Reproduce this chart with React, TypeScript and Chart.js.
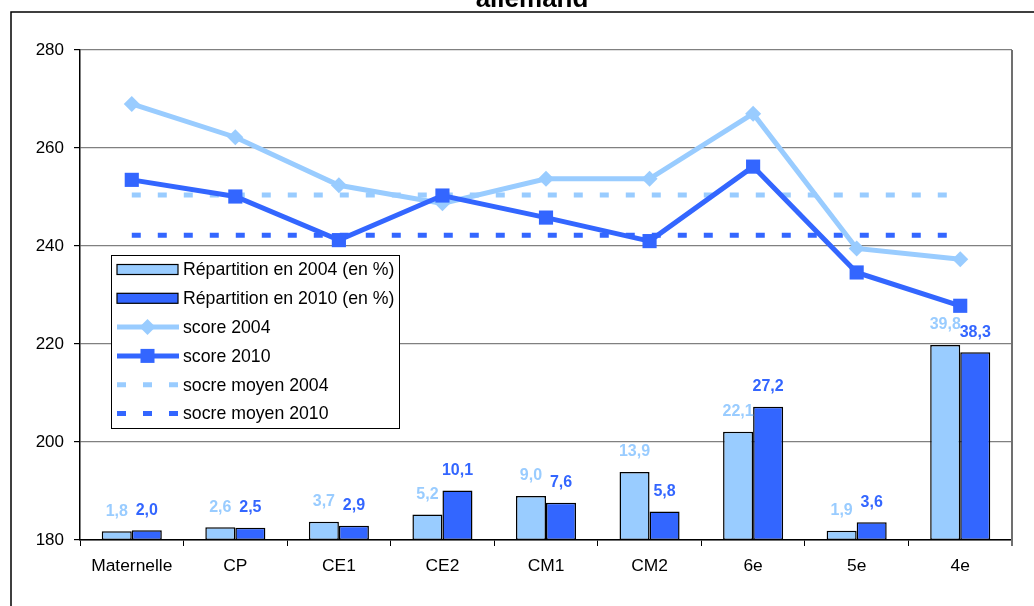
import React, { useEffect, useRef } from "react";
import { Chart, registerables } from "chart.js";

Chart.register(...registerables);

const FONT = "'Liberation Sans', Arial, sans-serif";

const titleText = "allemand";
const categories = ["Maternelle", "CP", "CE1", "CE2", "CM1", "CM2", "6e", "5e", "4e"];
const repartition2004 = [1.8, 2.6, 3.7, 5.2, 9.0, 13.9, 22.1, 1.9, 39.8];
const repartition2010 = [2.0, 2.5, 2.9, 10.1, 7.6, 5.8, 27.2, 3.6, 38.3];
const score2004 = [269.0, 262.2, 252.4, 248.7, 253.7, 253.7, 267.0, 239.5, 237.3];
const score2010 = [253.5, 250.1, 241.2, 250.3, 245.8, 241.0, 256.2, 234.6, 227.8];
const scoreMoyen2004 = [250.4, 250.4, 250.4, 250.4, 250.4, 250.4, 250.4, 250.4, 250.4];
const scoreMoyen2010 = [242.2, 242.2, 242.2, 242.2, 242.2, 242.2, 242.2, 242.2, 242.2];
const yTickMin = 180;
const yTickMax = 280;
const yTickStep = 20;
const barAxisMax = 100;

const LIGHT = "#99CCFF";
const DARK = "#3366FF";

const decoPlugin = {
  id: "deco",
  beforeDraw(chart: any) {
    const ctx = chart.ctx;
    ctx.save();
    ctx.fillStyle = "#fff";
    ctx.fillRect(0, 0, chart.width, chart.height);
    ctx.restore();
  },
  afterDatasetsDraw(chart: any) {
    const ctx = chart.ctx;
    ctx.save();
    ctx.font = `bold 16px ${FONT}`;
    ctx.textAlign = "center";
    ctx.textBaseline = "middle";
    chart.data.datasets.forEach((ds: any, i: number) => {
      if (ds.type !== "bar") return;
      const meta = chart.getDatasetMeta(i);
      meta.data.forEach((el: any, j: number) => {
        const v = ds.data[j];
        ctx.fillStyle = ds.backgroundColor;
        ctx.fillText(v.toFixed(1).replace(".", ","), el.x, el.y - 20);
      });
    });
    ctx.restore();
  },
  afterDraw(chart: any) {
    const ctx = chart.ctx;
    const ca = chart.chartArea;
    ctx.save();
    // plot area right border
    ctx.strokeStyle = "#707070";
    ctx.lineWidth = 2;
    ctx.beginPath();
    ctx.moveTo(ca.right, ca.top);
    ctx.lineTo(ca.right, ca.bottom + 6);
    ctx.stroke();

    // outer border
    ctx.strokeStyle = "#000";
    ctx.lineWidth = 1.5;
    ctx.strokeRect(11, 12, chart.width + 50, chart.height + 50);

    // title
    ctx.fillStyle = "#000";
    ctx.font = `bold 26px ${FONT}`;
    ctx.textAlign = "center";
    ctx.textBaseline = "alphabetic";
    ctx.fillText(titleText, 532, 7);

    // legend
    const lx = 111, ly = 255, lw = 288, lh = 173;
    ctx.fillStyle = "#fff";
    ctx.fillRect(lx, ly, lw, lh);
    ctx.strokeStyle = "#000";
    ctx.lineWidth = 1;
    ctx.strokeRect(lx + 0.5, ly + 0.5, lw, lh);
    const rowH = 28.8;
    chart.data.datasets.forEach((ds: any, i: number) => {
      const cy = ly + 14.5 + i * rowH;
      const sx = 117, ex = 178;
      if (ds.type === "bar") {
        ctx.fillStyle = ds.backgroundColor;
        ctx.fillRect(sx, cy - 5, ex - sx, 10);
        ctx.strokeStyle = "#000";
        ctx.lineWidth = 1.2;
        ctx.strokeRect(sx, cy - 5, ex - sx, 10);
      } else {
        ctx.strokeStyle = ds.borderColor;
        ctx.lineWidth = 5;
        ctx.setLineDash(ds.borderDash || []);
        ctx.beginPath();
        ctx.moveTo(sx, cy);
        ctx.lineTo(ex + 1, cy);
        ctx.stroke();
        ctx.setLineDash([]);
        if (ds.pointRadius > 0) {
          ctx.fillStyle = ds.borderColor;
          const mx = (sx + ex) / 2;
          if (ds.pointStyle === "rectRot") {
            ctx.beginPath();
            ctx.moveTo(mx, cy - 8);
            ctx.lineTo(mx + 8, cy);
            ctx.lineTo(mx, cy + 8);
            ctx.lineTo(mx - 8, cy);
            ctx.closePath();
            ctx.fill();
          } else {
            ctx.fillRect(mx - 7, cy - 7, 14, 14);
          }
        }
      }
      ctx.fillStyle = "#000";
      ctx.font = `17.7px ${FONT}`;
      ctx.textAlign = "left";
      ctx.textBaseline = "middle";
      ctx.fillText(ds.label, 183, cy + 1);
    });
    ctx.restore();
  },
};

export default function App() {
  const ref = useRef<HTMLCanvasElement>(null);
  useEffect(() => {
    if (!ref.current) return;
    const chart = new Chart(ref.current, {
      data: {
        labels: categories,
        datasets: [
          {
            type: "bar",
            label: "Répartition en 2004 (en %)",
            data: repartition2004,
            yAxisID: "y2",
            backgroundColor: LIGHT,
            borderColor: "#000",
            borderWidth: 1.5,
            borderSkipped: false,
            categoryPercentage: 0.58,
            barPercentage: 1,
            order: 3,
          },
          {
            type: "bar",
            label: "Répartition en 2010 (en %)",
            data: repartition2010,
            yAxisID: "y2",
            backgroundColor: DARK,
            borderColor: "#000",
            borderWidth: 1.5,
            borderSkipped: false,
            categoryPercentage: 0.58,
            barPercentage: 1,
            order: 3,
          },
          {
            type: "line",
            label: "score 2004",
            data: score2004,
            yAxisID: "y",
            borderColor: LIGHT,
            backgroundColor: LIGHT,
            borderWidth: 5,
            pointStyle: "rectRot",
            pointRadius: 8,
            pointBorderWidth: 0,
            pointBackgroundColor: LIGHT,
            tension: 0,
            order: 1,
          },
          {
            type: "line",
            label: "score 2010",
            data: score2010,
            yAxisID: "y",
            borderColor: DARK,
            backgroundColor: DARK,
            borderWidth: 5,
            pointStyle: "rect",
            pointRadius: 10,
            pointBorderWidth: 0,
            pointBackgroundColor: DARK,
            tension: 0,
            order: 0,
          },
          {
            type: "line",
            label: "socre moyen 2004",
            data: scoreMoyen2004,
            yAxisID: "y",
            borderColor: LIGHT,
            backgroundColor: LIGHT,
            borderWidth: 5,
            borderDash: [9, 17],
            borderCapStyle: "butt",
            pointRadius: 0,
            tension: 0,
            order: 2,
          },
          {
            type: "line",
            label: "socre moyen 2010",
            data: scoreMoyen2010,
            yAxisID: "y",
            borderColor: DARK,
            backgroundColor: DARK,
            borderWidth: 5,
            borderDash: [9, 17],
            borderCapStyle: "butt",
            pointRadius: 0,
            tension: 0,
            order: 2,
          },
        ] as any,
      },
      options: {
        animation: false,
        responsive: false,
        maintainAspectRatio: false,
        layout: { padding: { top: 50, right: 22, left: 0, bottom: 0 } },
        plugins: {
          legend: { display: false },
          tooltip: { enabled: false },
          title: { display: false },
        },
        scales: {
          x: {
            type: "category",
            offset: true,
            grid: {
              offset: true,
              drawOnChartArea: false,
              tickLength: 6,
              color: "#000",
              tickColor: "#000",
            },
            border: { color: "#000", width: 1.5 },
            ticks: {
              font: { family: FONT, size: 17.4 },
              color: "#000",
              padding: 10,
              maxRotation: 0,
              autoSkip: false,
            },
            afterFit(s: any) {
              s.height = 66;
            },
          },
          y: {
            type: "linear",
            position: "left",
            min: yTickMin,
            max: yTickMax,
            ticks: {
              stepSize: yTickStep,
              font: { family: FONT, size: 17 },
              color: "#000",
              padding: 10,
            },
            grid: { color: "#808080", tickColor: "#000", tickLength: 6, lineWidth: 1.2 },
            border: { color: "#000", width: 1.5 },
            afterFit(s: any) {
              s.width = 80;
            },
          },
          y2: {
            type: "linear",
            display: false,
            min: 0,
            max: barAxisMax,
          },
        },
      } as any,
      plugins: [decoPlugin],
    });
    return () => chart.destroy();
  }, []);
  return (
    <div style={{ position: "absolute", left: 0, top: 0, width: 1034, height: 606 }}>
      <canvas ref={ref} width={1034} height={606} style={{ width: 1034, height: 606 }} />
    </div>
  );
}
